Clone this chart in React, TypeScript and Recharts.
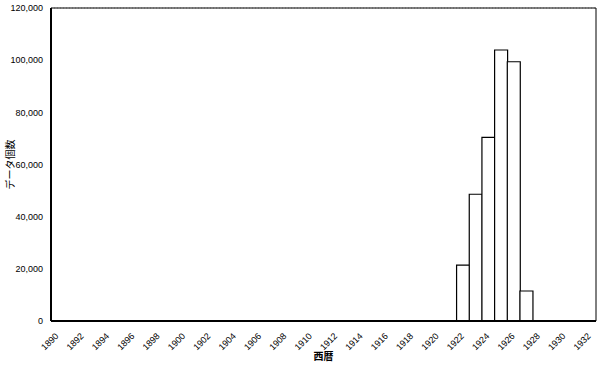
import { Bar, BarChart, CartesianGrid, ReferenceLine, XAxis, YAxis } from "recharts";

const years = [
  "1890", "1891", "1892", "1893", "1894", "1895", "1896", "1897", "1898", "1899",
  "1900", "1901", "1902", "1903", "1904", "1905", "1906", "1907", "1908", "1909",
  "1910", "1911", "1912", "1913", "1914", "1915", "1916", "1917", "1918", "1919",
  "1920", "1921", "1922", "1923", "1924", "1925", "1926", "1927", "1928", "1929",
  "1930", "1931", "1932",
];

const counts = [
  0, 0, 0, 0, 0, 0, 0, 0, 0, 0,
  0, 0, 0, 0, 0, 0, 0, 0, 0, 0,
  0, 0, 0, 0, 0, 0, 0, 0, 0, 0,
  0, 0, 21400, 48600, 70400, 103900, 99400, 11500, 0, 0,
  0, 0, 0,
];

const yTicks = [0, 20000, 40000, 60000, 80000, 100000, 120000];

const data = years.map((year, i) => ({ year, count: counts[i] }));

const font = "'Liberation Sans', Arial, sans-serif";
const jp = "'Noto Sans CJK JP', sans-serif";

function XTick(props: any) {
  const { x, y, payload } = props;
  return (
    <text
      x={x}
      y={y + 6}
      transform={`rotate(-45 ${x} ${y + 6})`}
      textAnchor="end"
      dominantBaseline="middle"
      fontSize={9}
      fontFamily={font}
      fill="#000"
    >
      {payload.value}
    </text>
  );
}

export default function App() {
  return (
    <div style={{ position: "absolute", left: 0, top: 0, background: "#fff" }}>
      <BarChart
        width={600}
        height={365}
        data={data}
        margin={{ top: 8, right: 0, left: 0, bottom: 0 }}
        barCategoryGap={0}
      >
        <CartesianGrid vertical={false} stroke="#aaa" strokeDasharray="1 2" />
        <XAxis
          dataKey="year"
          interval={1}
          height={44}
          tick={<XTick />}
          tickLine={false}
          axisLine={{ stroke: "#000", strokeWidth: 2 }}
          label={{ value: "西暦", position: "insideBottom", offset: 5, fontSize: 10, fontFamily: jp, fill: "#000", fontWeight: 700 }}
        />
        <YAxis
          yAxisId="l"
          width={51}
          domain={[0, 120000]}
          ticks={yTicks}
          tickFormatter={(v: number) => v.toLocaleString("en-US")}
          tick={{ fontSize: 9, fontFamily: font, fill: "#000" }}
          tickLine={false}
          axisLine={{ stroke: "#000", strokeWidth: 2 }}
          label={{ value: "データ個数", angle: -90, position: "insideLeft", offset: 10, fontSize: 10, fontFamily: jp, fill: "#000", style: { textAnchor: "middle" } }}
        />
        <YAxis
          yAxisId="r"
          orientation="right"
          width={4}
          domain={[0, 120000]}
          tick={false}
          tickLine={false}
          axisLine={{ stroke: "#000", strokeWidth: 1 }}
        />
        <ReferenceLine yAxisId="l" y={120000} stroke="#000" strokeWidth={1} />
        <Bar yAxisId="l" dataKey="count" fill="#fff" stroke="#000" strokeWidth={1.2} isAnimationActive={false} />
      </BarChart>
    </div>
  );
}
